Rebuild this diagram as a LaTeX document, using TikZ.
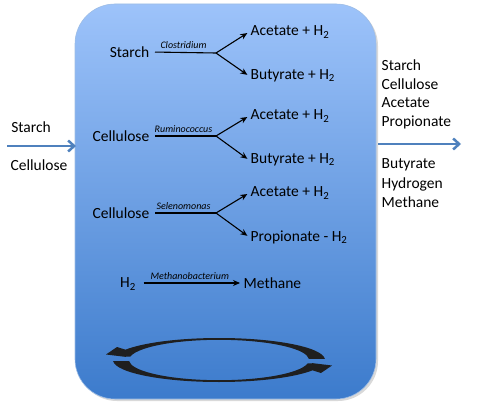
\documentclass[tikz,border=0pt]{standalone}
\usepackage{fontspec}
\setmainfont{Carlito}
\usetikzlibrary{arrows.meta}
\definecolor{boxtop}{RGB}{157,195,250}
\definecolor{boxbot}{RGB}{60,123,204}
\definecolor{flowblue}{RGB}{79,129,189}

\begin{document}
\begin{tikzpicture}[x=1pt,y=1pt,
  txt/.style={font=\fontsize{15.5}{19}\selectfont, inner sep=1.5pt},
  bug/.style={font=\fontsize{10}{12}\selectfont\itshape, inner sep=1pt, yshift=2pt},
  rxn/.style={line width=1.1pt, -{Stealth[length=7pt,width=6pt]}},
  flow/.style={draw=flowblue, line width=2.5pt, -{Straight Barb[length=6pt,width=11pt]}}]
\useasboundingbox (0,0) rectangle (479,-404);
% reactor
\fill[black!15, rounded corners=40pt] (77,-6) rectangle (378,-401);
\shade[top color=boxtop, bottom color=boxbot, rounded corners=40pt] (75,-4) rectangle (376,-399);
\draw[boxbot!50!white, line width=0.6pt, rounded corners=40pt] (75,-4) rectangle (376,-399);

% starch
\node[txt,anchor=east] (s1) at (151,-52) {Starch};
\coordinate (b1) at (216,-53);
\node[txt,anchor=west] (a1) at (249,-32) {Acetate + H\textsubscript{2}};
\node[txt,anchor=west] (p1) at (249,-76) {Butyrate + H\textsubscript{2}};
\draw[line width=1.1pt, shorten <=4pt] (s1.east) -- (b1) node[bug,midway,above] (g1) {Clostridium};
\draw[rxn, shorten >=2pt] (b1) -- (a1.west);
\draw[rxn, shorten >=2pt] (b1) -- (p1.west);

% cellulose 1
\node[txt,anchor=east] (s2) at (151,-136) {Cellulose};
\coordinate (b2) at (216,-136);
\node[txt,anchor=west] (a2) at (249,-116) {Acetate + H\textsubscript{2}};
\node[txt,anchor=west] (p2) at (249,-160) {Butyrate + H\textsubscript{2}};
\draw[line width=1.1pt, shorten <=4pt] (s2.east) -- (b2) node[bug,midway,above] (g2) {Ruminococcus};
\draw[rxn, shorten >=2pt] (b2) -- (a2.west);
\draw[rxn, shorten >=2pt] (b2) -- (p2.west);

% cellulose 2
\node[txt,anchor=east] (s3) at (151,-213) {Cellulose};
\coordinate (b3) at (216,-213);
\node[txt,anchor=west] (a3) at (249,-193) {Acetate + H\textsubscript{2}};
\node[txt,anchor=west] (p3) at (249,-237) {Propionate - H\textsubscript{2}};
\draw[line width=1.1pt, shorten <=4pt] (s3.east) -- (b3) node[bug,midway,above] (g3) {Selenomonas};
\draw[rxn, shorten >=2pt] (b3) -- (a3.west);
\draw[rxn, shorten >=2pt] (b3) -- (p3.west);

% hydrogen
\node[txt] (h2) at (128,-284) {H\textsubscript{2}};
\node[txt,anchor=west] (ch4) at (242,-283) {Methane};
\draw[rxn, shorten <=6pt, shorten >=2pt] (h2.east |- ch4.west) -- (ch4.west) node[bug,midway,above] (g4) {Methanobacterium};

% cycle
\foreach \r in {0,180}
  \fill[black!88, rotate around={\r:(219,-360)}] (324.9,-358.85) arc[start angle=3,end angle=152,x radius=106,y radius=22]
    -- (117,-347) -- (106,-354.5) -- (125,-356.8) -- (130.4,-356.5)
    arc[start angle=170,end angle=3,x radius=90,y radius=20.2] -- cycle;

% feed in
\node[txt] (inS) at (31,-127) {Starch};
\node[txt] (inC) at (39,-165) {Cellulose};
\coordinate (in0) at (7,-146);
\coordinate (in1) at (76,-146);
\draw[flow] (in0) -- (in1);

% out
\coordinate (out0) at (378,-144);
\coordinate (out1) at (461,-144);
\draw[flow] (out0) -- (out1);
\foreach \w/\y in {Starch/65, Cellulose/84, Acetate/103, Propionate/122, Butyrate/165, Hydrogen/184, Methane/202}
  \node[txt,anchor=west] (out-\w) at (380,-\y) {\w};
\end{tikzpicture}
\end{document}
